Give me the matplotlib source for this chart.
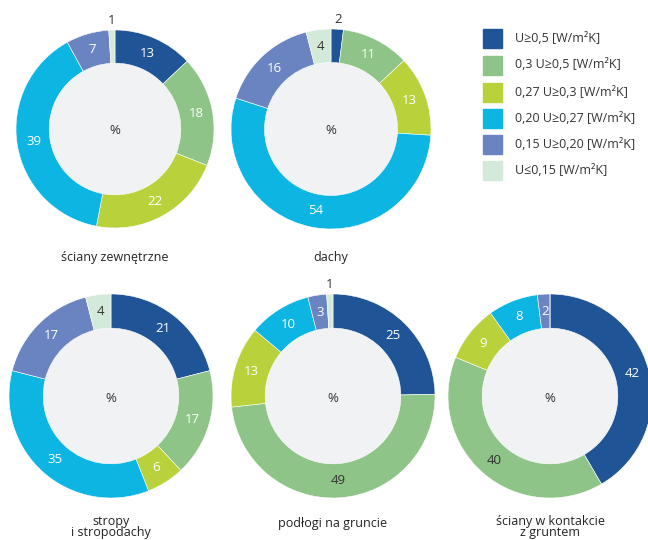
import numpy as np
import matplotlib
matplotlib.use("Agg")
import matplotlib.pyplot as plt

plt.rcParams['font.family'] = ['Open Sans', 'DejaVu Sans']

classes = [
    "U≥0,5 [W/m²K]",
    "0,3 U≥0,5 [W/m²K]",
    "0,27 U≥0,3 [W/m²K]",
    "0,20 U≥0,27 [W/m²K]",
    "0,15 U≥0,20 [W/m²K]",
    "U≤0,15 [W/m²K]",
]
colors = ["#1f5597", "#8fc488", "#b9d13a", "#0db5e3", "#6a84c1", "#d3e9da"]

titles = [
    "ściany zewnętrzne",
    "dachy",
    "stropy\ni stropodachy",
    "podłogi na gruncie",
    "ściany w kontakcie\nz gruntem",
]
sciany_zewnetrzne = [13, 18, 22, 39, 7, 1]
dachy = [2, 11, 13, 54, 16, 4]
stropy = [21, 17, 6, 35, 17, 4]
podlogi = [25, 49, 13, 10, 3, 1]
sciany_grunt = [42, 40, 9, 8, 2, 0]
datasets = [sciany_zewnetrzne, dachy, stropy, podlogi, sciany_grunt]

# labels drawn outside the ring / in dark text
outside = [{5}, {0}, set(), {5}, set()]
dark = [{5}, {0, 5}, {5}, {1, 5}, {1}]

# layout (pixel coordinates, y measured from top)
centers = [(115, 129), (331, 129), (111, 396), (333, 396), (550, 396)]
radii = [99, 100, 102, 102, 102]
title_y = [257, 258, 527, 524, 527]

W, H = 648, 540
fig = plt.figure(figsize=(W / 100, H / 100), dpi=100)
ax = fig.add_axes([0, 0, 1, 1])

text_dark = "#333333"
for vals, (cx, cy), R, outs, darks, title, ty in zip(
        datasets, centers, radii, outside, dark, titles, title_y):
    cyd = H - cy
    width = 0.335 * R
    wedges, _ = ax.pie(vals, colors=colors, startangle=90, counterclock=False,
                       center=(cx, cyd), radius=R,
                       wedgeprops=dict(width=width, edgecolor="white", linewidth=0.4),
                       frame=True)
    ax.add_patch(plt.Circle((cx, cyd), R - width, color="#f0f2f4", zorder=0.5))
    for i, (w, v) in enumerate(zip(wedges, vals)):
        if v == 0:
            continue
        mid = np.deg2rad((w.theta1 + w.theta2) / 2)
        r = R + 10 if i in outs else R - width / 2
        col = text_dark if (i in darks or i in outs) else "white"
        ax.text(cx + r * np.cos(mid), cyd + r * np.sin(mid), str(v),
                ha="center", va="center", fontsize=9.5, color=col)
    ax.text(cx, cyd - 2, "%", ha="center", va="center", fontsize=9.5, color=text_dark)
    ax.text(cx, H - ty, title, ha="center", va="center", fontsize=9,
            color="#222222", linespacing=0.85)

# legend
leg_y = [38, 65, 92, 118, 144, 170]
for lbl, col, y in zip(classes, colors, leg_y):
    ax.add_patch(plt.Rectangle((483, H - y - 9.5), 19, 19, color=col))
    ax.text(515, H - y, lbl, ha="left", va="center", fontsize=9, color=text_dark)

ax.set_xlim(0, W)
ax.set_ylim(0, H)
ax.set_aspect("equal")
ax.axis("off")
fig.savefig("out.png", dpi=100)
